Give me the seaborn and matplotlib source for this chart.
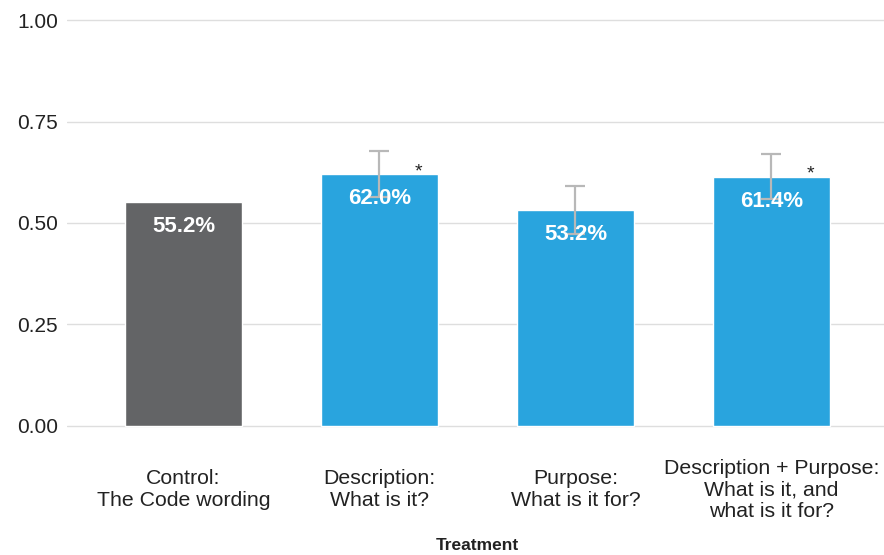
import numpy as np
import pandas as pd
import matplotlib
matplotlib.use("Agg")
import matplotlib.pyplot as plt
import seaborn as sns

# Share of respondents by treatment wording
treatments = [
    "Control:\nThe Code wording",
    "Description:\nWhat is it?",
    "Purpose:\nWhat is it for?",
    "Description + Purpose:\nWhat is it, and\nwhat is it for?",
]
shares = [0.552, 0.620, 0.532, 0.614]
errors = [np.nan, 0.057, 0.058, 0.056]
significant = [False, True, False, True]
groups = ["control", "treated", "treated", "treated"]

palette = {"control": "#636466", "treated": "#29A4DE"}

sns.set_theme(style="white")
plt.rcParams["font.family"] = ["Liberation Sans", "DejaVu Sans"]

df = pd.DataFrame({"treatment": treatments, "share": shares, "group": groups})

fig = plt.figure(figsize=(8.84, 5.55), dpi=100)
ax = fig.add_axes([67 / 884, 1 - 430 / 555, 817 / 884, 414 / 555])

sns.barplot(data=df, x="treatment", y="share", hue="group", palette=palette,
            dodge=False, width=0.6, saturation=1, legend=False, ax=ax,
            zorder=2)

xpos = np.arange(len(treatments))
ax.errorbar(xpos, shares, yerr=errors, fmt="none", ecolor="#B8B8B8",
            elinewidth=1.6, capsize=7.2, capthick=1.6, zorder=3)

for x, v, sig in zip(xpos, shares, significant):
    ax.annotate(f"{v * 100:.1f}%", (x, v), xytext=(0, -17.5),
                textcoords="offset points", ha="center", va="center",
                color="white", fontsize=16, fontweight="bold", zorder=4)
    if sig:
        ax.annotate("*", (x + 0.2, v), xytext=(0, 2), textcoords="offset points",
                    ha="center", va="center", color="#222222", fontsize=14,
                    zorder=4)

ax.set_ylim(-0.01, 1.01)
ax.set_xlim(-0.594, 3.574)
ax.set_yticks([0, 0.25, 0.5, 0.75, 1.0])
ax.set_yticklabels(["0.00", "0.25", "0.50", "0.75", "1.00"])
ax.yaxis.grid(True, color="#DEDEDE", linewidth=1.0, zorder=0)
ax.xaxis.grid(False)
ax.set_axisbelow(True)
for s in ax.spines.values():
    s.set_visible(False)

ax.tick_params(axis="y", length=0, pad=6.5, labelsize=15, labelcolor="#222222")
ax.tick_params(axis="x", length=0, pad=43, labelsize=15.3, labelcolor="#222222")
for lbl in ax.get_xticklabels():
    lbl.set_va("center")
    lbl.set_linespacing(1.17)

ax.set_xlabel("")
ax.set_ylabel("")
fig.text(477 / 884, 1 - 546 / 555, "Treatment", ha="center", va="center",
         fontsize=12.5, fontweight="bold", color="#222222")

fig.savefig("out.png", dpi=100, facecolor="white")
